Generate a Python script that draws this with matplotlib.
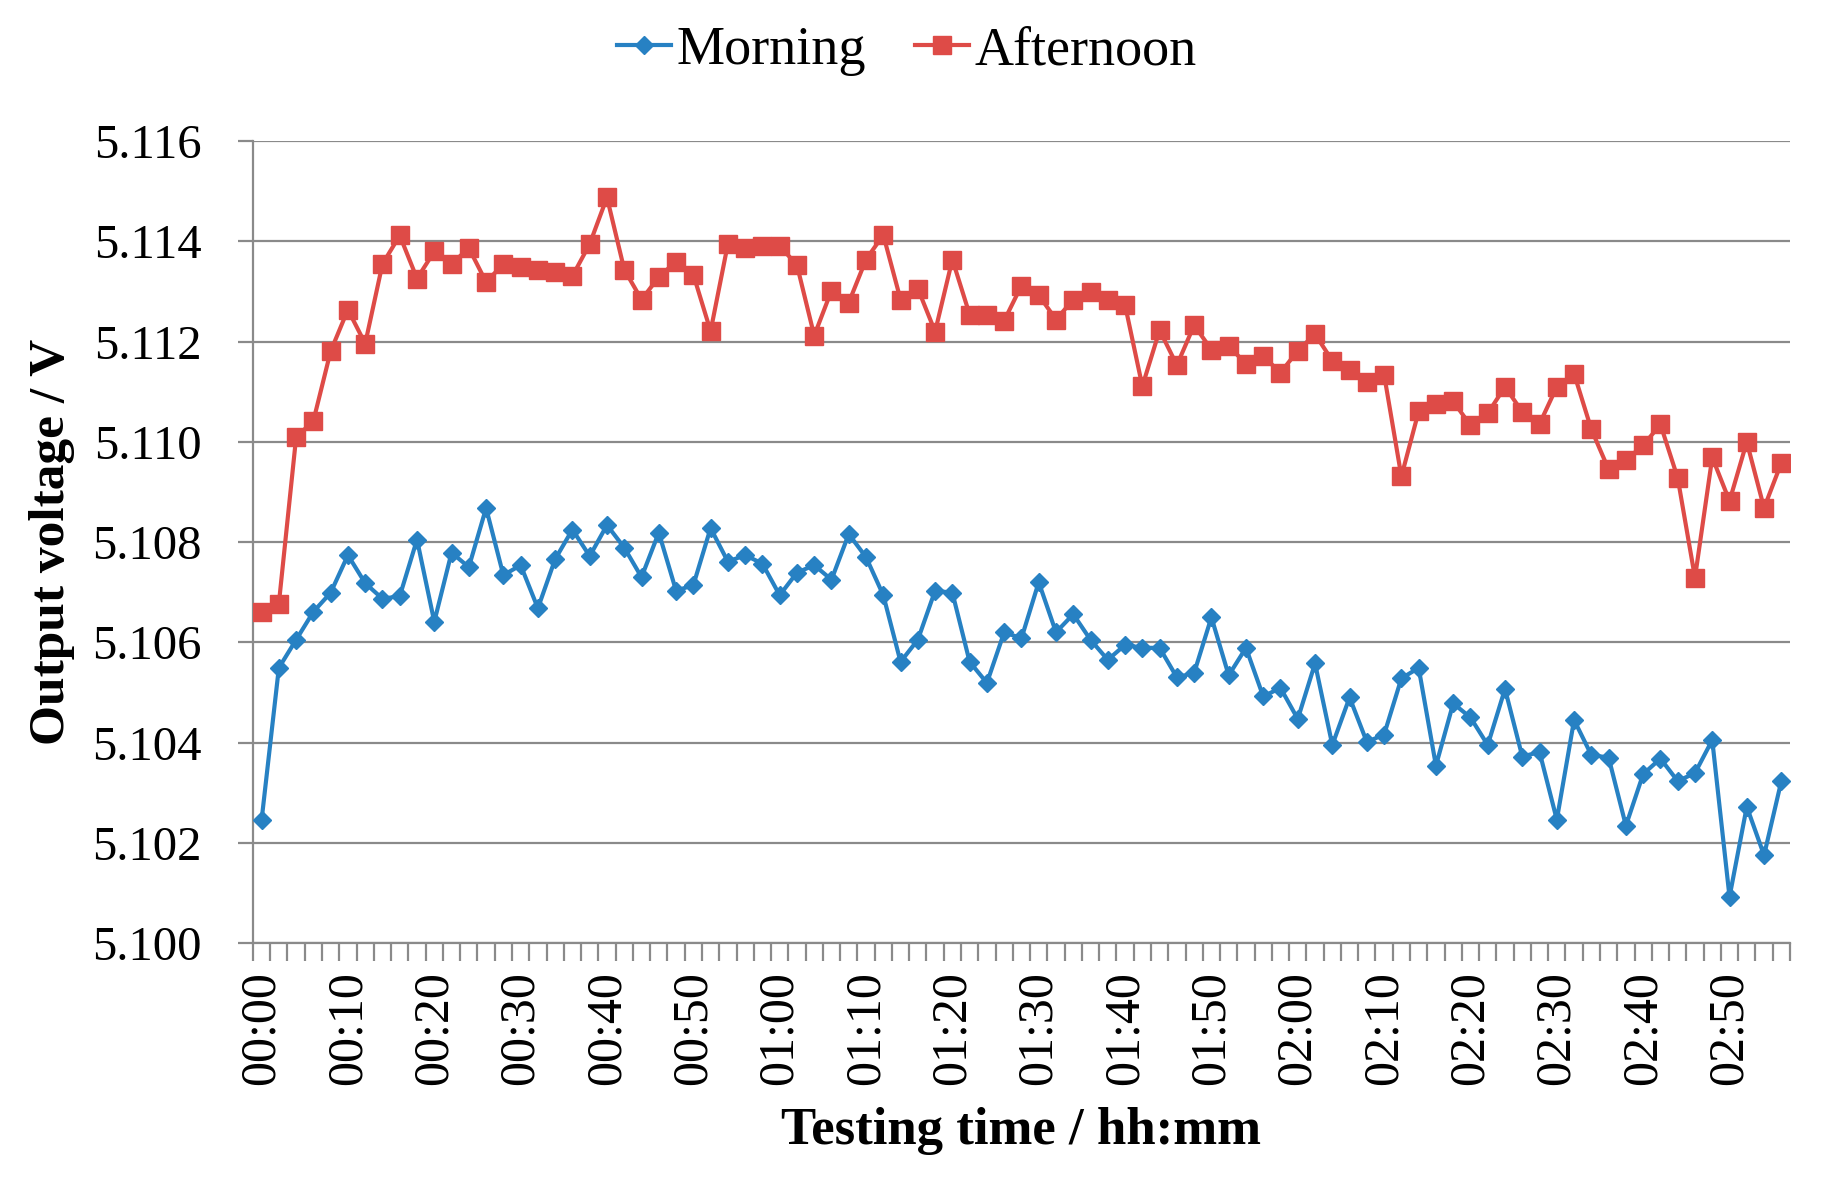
import matplotlib
matplotlib.use("Agg")
import matplotlib.pyplot as plt
from matplotlib.ticker import FixedLocator

# time stamps every 2 minutes, 00:00 .. 02:56
times = [f"{m // 60:02d}:{m % 60:02d}" for m in range(0, 178, 2)]

morning = [5.10245, 5.10549, 5.10605, 5.10661, 5.10699, 5.10774, 5.10718, 5.10687, 5.10692, 5.10805,
           5.10641, 5.10779, 5.10750, 5.10868, 5.10734, 5.10754, 5.10668, 5.10766, 5.10825, 5.10772,
           5.10834, 5.10789, 5.10730, 5.10819, 5.10703, 5.10714, 5.10828, 5.10761, 5.10774, 5.10757,
           5.10694, 5.10739, 5.10754, 5.10725, 5.10816, 5.10770, 5.10694, 5.10561, 5.10605, 5.10703,
           5.10699, 5.10561, 5.10519, 5.10620, 5.10608, 5.10720, 5.10620, 5.10656, 5.10605, 5.10565,
           5.10595, 5.10589, 5.10589, 5.10530, 5.10539, 5.10650, 5.10534, 5.10589, 5.10492, 5.10509,
           5.10447, 5.10558, 5.10395, 5.10490, 5.10401, 5.10416, 5.10528, 5.10549, 5.10354, 5.10478,
           5.10450, 5.10395, 5.10507, 5.10372, 5.10381, 5.10246, 5.10445, 5.10375, 5.10370, 5.10234,
           5.10337, 5.10368, 5.10323, 5.10339, 5.10405, 5.10092, 5.10272, 5.10175, 5.10323]

afternoon = [5.10661, 5.10677, 5.11009, 5.11042, 5.11181, 5.11264, 5.11196, 5.11355, 5.11412, 5.11326,
             5.11380, 5.11355, 5.11387, 5.11319, 5.11355, 5.11349, 5.11344, 5.11339, 5.11331, 5.11395,
             5.11488, 5.11344, 5.11284, 5.11329, 5.11360, 5.11334, 5.11221, 5.11395, 5.11386, 5.11391,
             5.11391, 5.11353, 5.11212, 5.11302, 5.11278, 5.11364, 5.11413, 5.11284, 5.11306, 5.11220,
             5.11364, 5.11254, 5.11254, 5.11242, 5.11312, 5.11293, 5.11244, 5.11284, 5.11300, 5.11284,
             5.11273, 5.11111, 5.11223, 5.11153, 5.11233, 5.11184, 5.11191, 5.11156, 5.11171, 5.11138,
             5.11182, 5.11215, 5.11162, 5.11144, 5.11120, 5.11134, 5.10931, 5.11061, 5.11076, 5.11081,
             5.11033, 5.11057, 5.11110, 5.11060, 5.11036, 5.11110, 5.11136, 5.11025, 5.10945, 5.10964,
             5.10993, 5.11035, 5.10928, 5.10729, 5.10969, 5.10882, 5.11000, 5.10868, 5.10958]

yticks = [5.100, 5.102, 5.104, 5.106, 5.108, 5.110, 5.112, 5.114, 5.116]

blue = "#2781C3"
red = "#DE4B47"
grey = "#8A8A8A"

plt.rcParams["font.family"] = ["Liberation Serif", "DejaVu Serif"]

fig = plt.figure(figsize=(18.25, 11.87), dpi=100)
ax = fig.add_axes([0.1386, 0.2056, 0.9808 - 0.1386, 0.881 - 0.2056])

x = list(range(len(times)))
ax.plot(x, morning, color=blue, lw=3, marker="D", ms=9.5, label="Morning", zorder=3)
ax.plot(x, afternoon, color=red, lw=3, marker="s", ms=13, label="Afternoon", zorder=3)

ax.set_xlim(-0.5, len(times) - 0.5)
ax.set_ylim(5.100, 5.116)
ax.set_yticks(yticks)
ax.set_yticklabels([f"{v:.3f}" for v in yticks])
ax.yaxis.grid(True, color=grey, lw=1.6)
ax.set_axisbelow(True)

# labels every 5 categories, tick marks between every category
lab_pos = list(range(0, len(times), 5))
ax.set_xticks(lab_pos)
ax.set_xticklabels([times[i] for i in lab_pos], rotation=90)
ax.xaxis.set_minor_locator(FixedLocator([i - 0.5 for i in range(len(times) + 1)]))
ax.tick_params(axis="x", which="major", length=0, pad=20, labelsize=36)
ax.tick_params(axis="x", which="minor", length=13, width=1.6, color=grey)
ax.tick_params(axis="y", length=11, width=1.6, color=grey, pad=26, labelsize=35)

for s in ["top", "right"]:
    ax.spines[s].set_visible(False)
for s in ["left", "bottom"]:
    ax.spines[s].set_color(grey)
    ax.spines[s].set_linewidth(1.6)

ax.set_ylabel("Output voltage / V", fontsize=37, fontweight="bold", labelpad=12)
ax.set_xlabel("Testing time / hh:mm", fontsize=38, fontweight="bold", labelpad=16)

fig.legend(loc="center", bbox_to_anchor=(0.497, 0.957), ncol=2, frameon=False,
           fontsize=39, handlelength=1.0, handletextpad=0.1, columnspacing=0.9)

fig.savefig("out.png", dpi=100)
